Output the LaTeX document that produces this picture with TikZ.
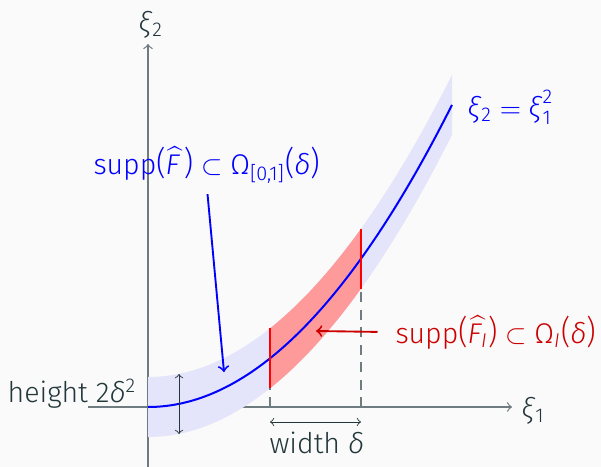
\documentclass[tikz,border=0pt]{standalone}
\usepackage{amsmath}
\usepackage{fontspec}
\setmainfont{Fira Sans}[UprightFont={* Light},ItalicFont={* Light Italic}]
\definecolor{bg}{HTML}{FAFAFA}
\definecolor{fg}{HTML}{23373B}
\definecolor{axc}{HTML}{6E7C7F}
\definecolor{bandblue}{HTML}{E4E4FB}
\definecolor{bandred}{HTML}{FF9A9A}
\definecolor{redt}{HTML}{CC0000}
\newcommand{\mxi}{\textit{ξ}}
\newcommand{\mdl}{\textit{δ}}
\newcommand{\bigp}[1]{\scalebox{1}[1.15]{#1}}
\tikzset{
  axisline/.style={draw=axc, line width=0.5pt},
  lbl/.style={inner sep=0pt, font=\fontsize{11.4}{13.5}\selectfont},
  curveline/.style={draw=blue, line width=0.8pt},
  redline/.style={draw=red, line width=0.8pt},
  dimline/.style={draw=fg, line width=0.35pt, <->},
}
\begin{document}
\begin{tikzpicture}[x=0.4pt,y=-0.4pt]
\useasboundingbox[fill=bg] (0,0) rectangle (601,467);
% axes
\coordinate (xs) at (88,407);
\coordinate (xe) at (512,407);
\coordinate (ys) at (148,467);
\coordinate (ye) at (148,44);
\draw[axisline,->] (xs) -- (xe);
\draw[axisline,->] (ys) -- (ye);
\node[lbl, text=fg, anchor=base west] (x1) at (521,418) {\mxi\textsubscript{1}};
\node[lbl, text=fg, anchor=base west] (x2) at (138,32) {\mxi\textsubscript{2}};
% blue band
\fill[bandblue] plot[domain=0:304,samples=80] ({148+\x},{377-(0.05718*\x)^2})
  -- plot[domain=304:0,samples=80] ({148+\x},{437-(0.05718*\x)^2}) -- cycle;
% dashed lines
\coordinate (d1a) at (270,407);
\coordinate (d1b) at (270,388);
\coordinate (d2a) at (361,407);
\coordinate (d2b) at (361,289);
\draw[axc, line width=0.45pt, dash pattern=on 4pt off 3pt] (d1a) -- (d1b);
\draw[axc, line width=0.45pt, dash pattern=on 4pt off 3pt] (d2a) -- (d2b);
% red band
\fill[bandred] plot[domain=122:213,samples=40] ({148+\x},{377-(0.05718*\x)^2})
  -- plot[domain=213:122,samples=40] ({148+\x},{437-(0.05718*\x)^2}) -- cycle;
% curve
\draw[curveline] plot[domain=0:304,samples=100] ({148+\x},{407-(0.05718*\x)^2});
% red lines
\coordinate (r1a) at (270,328);
\coordinate (r1b) at (270,388);
\coordinate (r2a) at (361,229);
\coordinate (r2b) at (361,289);
\draw[redline] (r1a) -- (r1b);
\draw[redline] (r2a) -- (r2b);
% height
\coordinate (ha) at (179,374);
\coordinate (hb) at (179,434);
\draw[dimline] (ha) -- (hb);
\node[lbl, text=fg, anchor=base east] (hl) at (137,402) {height 2\mdl\textsuperscript{2}};
% width
\coordinate (wa) at (270,422);
\coordinate (wb) at (361,422);
\draw[dimline] (wa) -- (wb);
\node[lbl, text=fg, anchor=base west] (wl) at (269,453) {width \mdl};
% curve label
\node[lbl, text=blue, anchor=base west] (cl) at (467,117) {\mxi\textsubscript{2}${}={}$$\text{\mxi}_{\text{1}}^{\text{2}}$};
% blue support label
\node[lbl, text=blue, anchor=base west] (bl) at (93,174)
  {supp\bigp{(}$\widehat{\text{\itshape F\,}}$\bigp{)} $\subset$ Ω$_{\text{[0,1]}}$\bigp{(}\mdl\bigp{)}};
\coordinate (bt) at (224,372);
\draw[blue, line width=0.75pt, ->, shorten <=4pt] (bl.south) -- (bt);
% red support label
\node[lbl, text=redt, anchor=base west] (rl) at (395,343)
  {supp\bigp{(}$\widehat{\text{\itshape F}_{\text{\itshape I}}}$\bigp{)} $\subset$ Ω$_{\text{\itshape I}}$\bigp{(}\mdl\bigp{)}};
\coordinate (rt) at (316,331);
\draw[redt, line width=0.75pt, ->, shorten <=7pt] (rl.west) -- (rt);
\end{tikzpicture}
\end{document}
